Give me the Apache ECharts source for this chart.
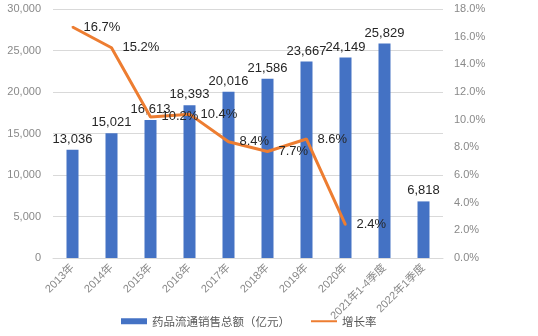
<!DOCTYPE html>
<html>
<head>
<meta charset="utf-8">
<script src="https://cdn.jsdelivr.net/npm/echarts@6/dist/echarts.min.js"></script>
<style>
  html, body { margin: 0; padding: 0; background: #fff; }
  #chart { width: 538px; height: 336px; }
</style>
</head>
<body>
<div id="chart"></div>
<script>
// Categories (years / quarters)
var categories = ['2013年', '2014年', '2015年', '2016年', '2017年', '2018年', '2019年', '2020年', '2021年1-4季度', '2022年1季度'];
// Total pharmaceutical distribution sales (100 million yuan)
var salesValues = [13036, 15021, 16613, 18393, 20016, 21586, 23667, 24149, 25829, 6818];
// Year-on-year growth rate (%)
var growthValues = [16.7, 15.2, 10.2, 10.4, 8.4, 7.7, 8.6, 2.4, null, null];
// Left axis ticks
var leftTicks = { min: 0, max: 30000, interval: 5000 };
// Right axis ticks (%)
var rightTicks = { min: 0, max: 18, interval: 2 };

var seriesNames = ['药品流通销售总额（亿元）', '增长率'];

var chart = echarts.init(document.getElementById('chart'), null, { renderer: 'canvas' });

var axisGrey = '#898989';
var numFont = '"Liberation Sans", Arial, "Noto Sans CJK SC", sans-serif';

chart.setOption({
  animation: false,
  backgroundColor: '#ffffff',
  textStyle: { fontFamily: numFont },
  grid: { left: 53, right: 95, top: 9, bottom: 78, containLabel: false },
  legend: {
    left: 116,
    bottom: 4,
    itemGap: 20,
    itemWidth: 26,
    itemHeight: 6,
    textStyle: { color: '#595959', fontSize: 11.5, fontFamily: '"Noto Sans CJK SC", sans-serif' },
    data: [
      { name: seriesNames[0], icon: 'rect' },
      { name: seriesNames[1], itemStyle: { opacity: 0 } }
    ]
  },
  xAxis: {
    type: 'category',
    data: categories,
    axisLine: { show: true, lineStyle: { color: '#d9d9d9', width: 1 } },
    axisTick: { show: false },
    axisLabel: {
      rotate: 45,
      color: axisGrey,
      fontSize: 11,
      margin: 8,
      interval: 0,
      fontFamily: numFont
    }
  },
  yAxis: [
    {
      type: 'value',
      min: leftTicks.min,
      max: leftTicks.max,
      interval: leftTicks.interval,
      axisLine: { show: false },
      axisTick: { show: false },
      splitLine: { lineStyle: { color: '#d9d9d9', width: 1 } },
      axisLabel: {
        color: axisGrey,
        fontSize: 11,
        margin: 12,
        formatter: function (v) { return v.toLocaleString('en-US'); }
      }
    },
    {
      type: 'value',
      min: rightTicks.min,
      max: rightTicks.max,
      interval: rightTicks.interval,
      position: 'right',
      axisLine: { show: false },
      axisTick: { show: false },
      splitLine: { show: false },
      axisLabel: {
        color: axisGrey,
        fontSize: 11,
        margin: 11,
        formatter: function (v) { return v.toFixed(1) + '%'; }
      }
    }
  ],
  series: [
    {
      name: seriesNames[0],
      type: 'bar',
      yAxisIndex: 0,
      data: salesValues,
      barWidth: 12,
      itemStyle: { color: '#4472C4' },
      label: {
        show: true,
        position: 'top',
        distance: 4,
        color: '#262626',
        fontSize: 13,
        formatter: function (p) { return p.value.toLocaleString('en-US'); }
      }
    },
    {
      name: seriesNames[1],
      type: 'line',
      yAxisIndex: 1,
      data: growthValues,
      symbol: 'circle',
      symbolSize: 2,
      showSymbol: true,
      showAllSymbol: true,
      connectNulls: false,
      lineStyle: { color: '#ED7D31', width: 3 },
      itemStyle: { color: '#ED7D31' },
      label: {
        show: true,
        position: 'right',
        distance: 10,
        color: '#262626',
        fontSize: 13,
        formatter: function (p) { return p.value == null ? '' : p.value.toFixed(1) + '%'; }
      },
      labelLayout: { hideOverlap: false },
      z: 3
    }
  ]
});
</script>
</body>
</html>
